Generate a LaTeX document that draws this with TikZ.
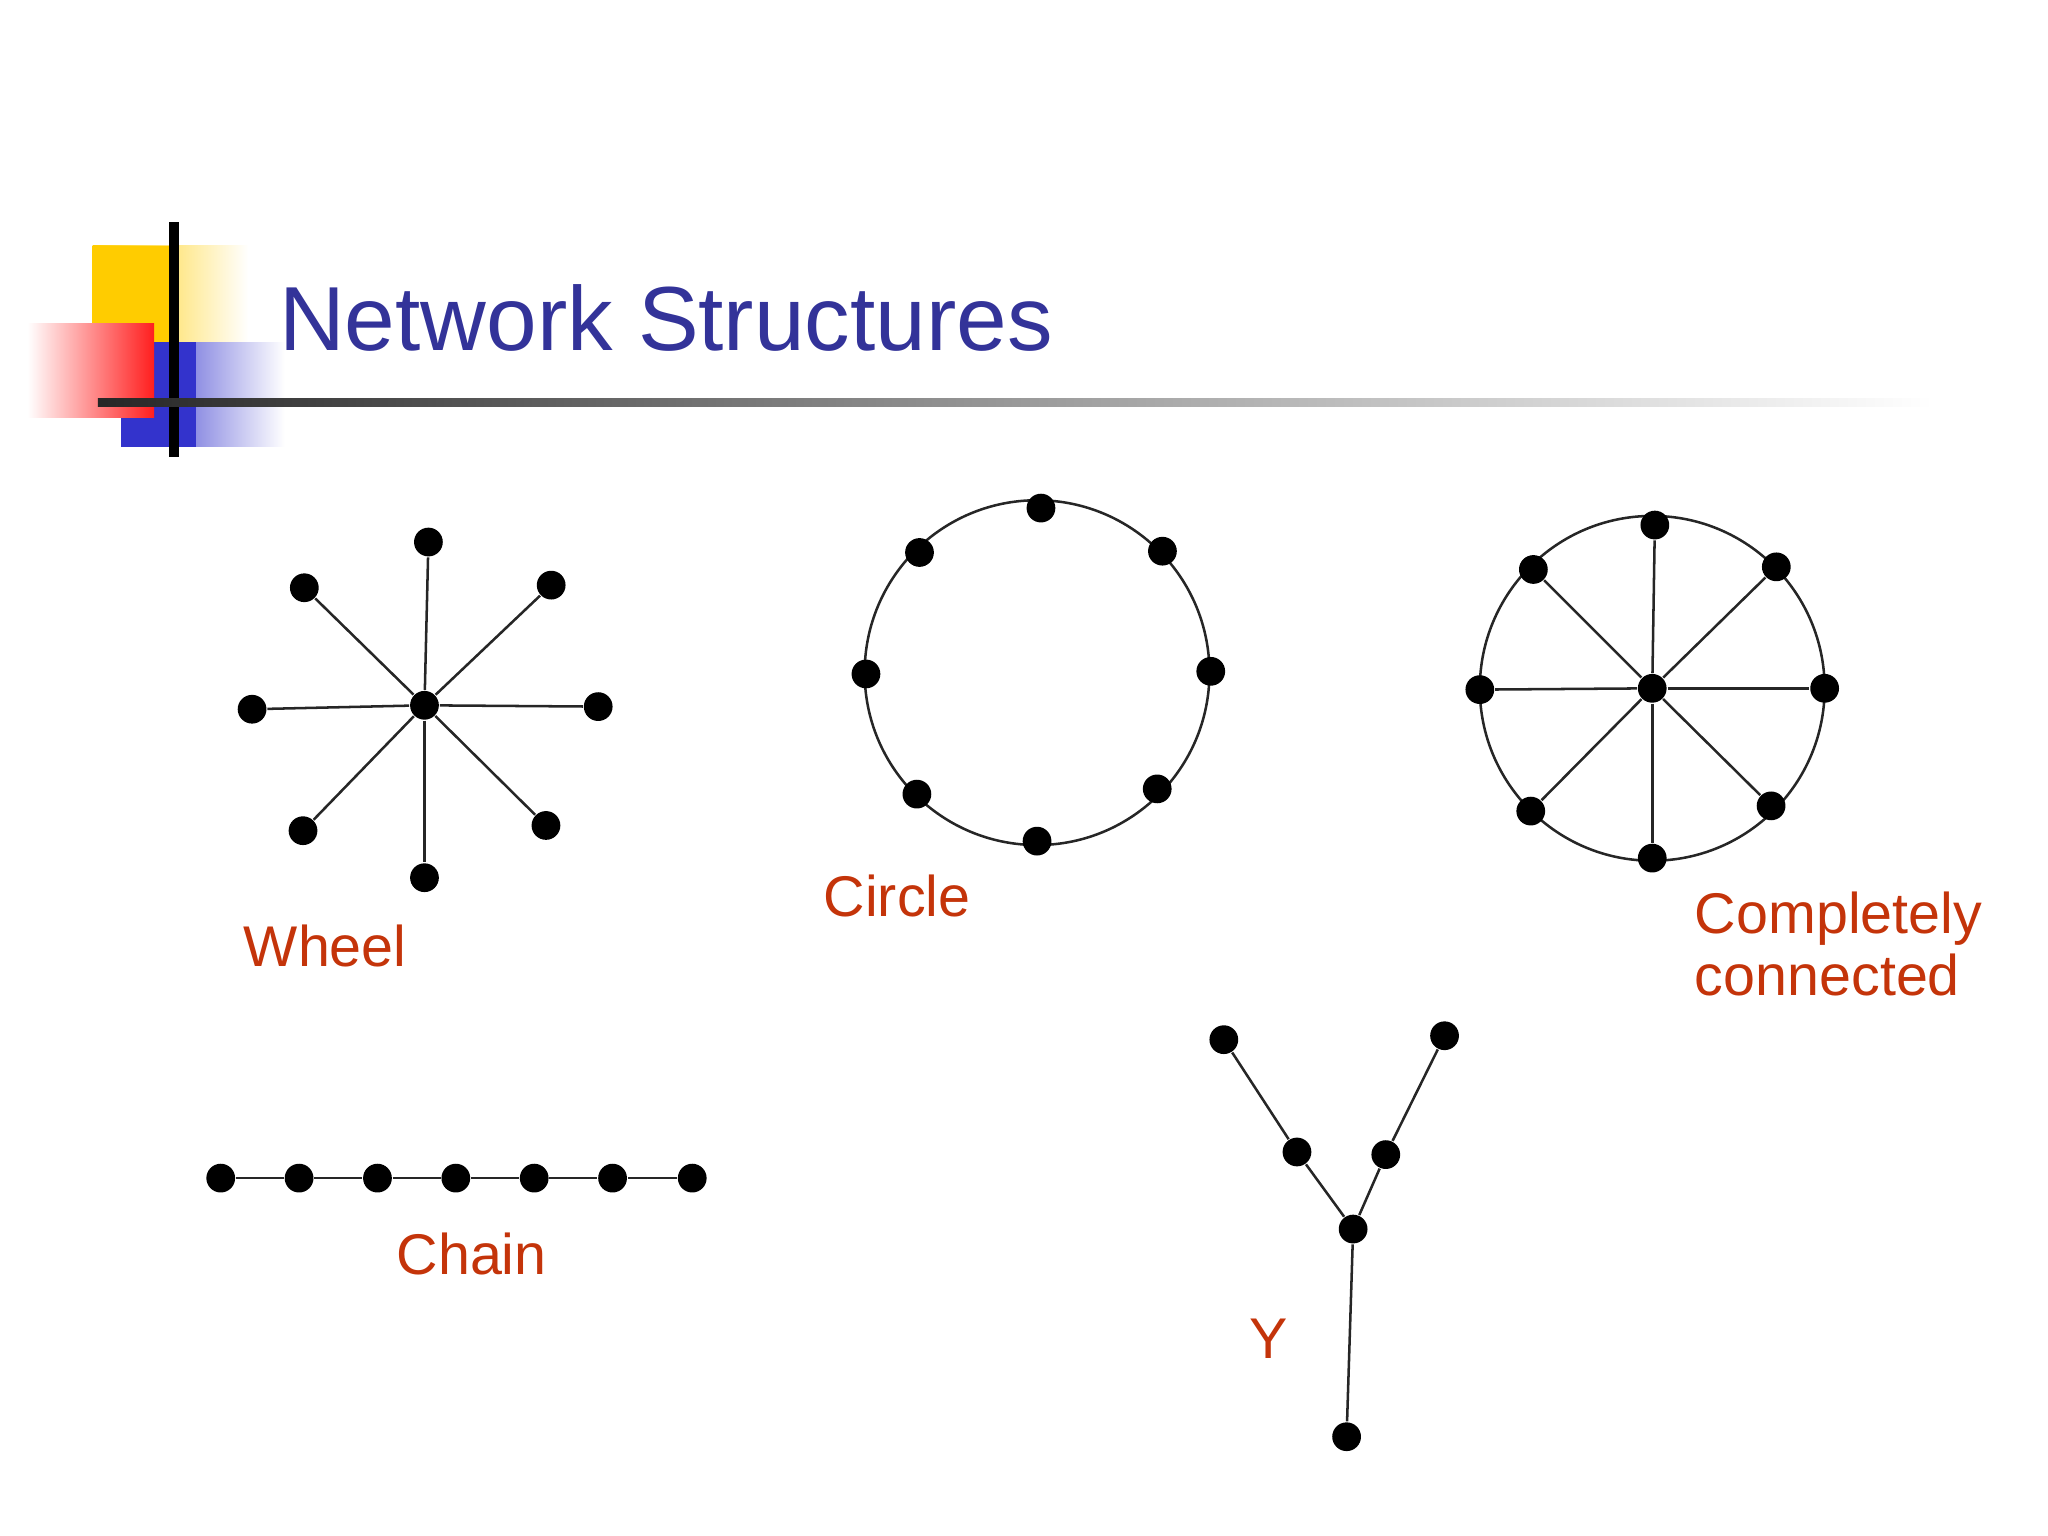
\documentclass[tikz,border=0pt]{standalone}
\usepackage{fontspec}
\setmainfont{Liberation Sans}
\usetikzlibrary{shadings}
\definecolor{ttl}{RGB}{51,51,153}
\definecolor{lbl}{RGB}{196,52,10}
\definecolor{yel}{RGB}{255,204,0}
\definecolor{blu}{RGB}{51,51,204}
\definecolor{rd}{RGB}{255,30,30}
\tikzset{dot/.style={circle,fill=black,minimum size=0.22cm,inner sep=0pt},
 edge/.style={line width=0.55pt,black!85},
 lab/.style={anchor=base west,text=lbl,font=\fontsize{12.5}{14}\selectfont,inner sep=0pt}}
\begin{document}
\begin{tikzpicture}[x=0.01cm,y=-0.01cm]
\useasboundingbox (0,0) rectangle (1568,1176);
% logo
\shade[left color=yel,right color=white] (71,188) rectangle (190,262);
\fill[yel] (71,188) rectangle (130,262);
\shade[left color=blu,right color=white] (93,262) rectangle (218,342);
\fill[blu] (93,262) rectangle (150,342);
\shade[left color=white,right color=rd] (21,248) rectangle (118,320);
\draw[line width=2.2pt] (133,170) -- (133,350);
\shade[left color=black!85,right color=white,middle color=black!40] (75,305) rectangle (1480,311);
\node[anchor=base west,inner sep=0pt,text=ttl] (title) at (213,268) {\resizebox{5.92cm}{!}{\fontsize{22}{26}\selectfont Network Structures}};
% wheel
\node[dot] (wc) at (325,540) {};
\foreach \p [count=\i] in {(328,415),(422,448),(458,541),(418,632),(325,672),(232,636),(193,543),(233,450)}
  {\node[dot] (w\i) at \p {}; \draw[edge] (wc) -- (w\i);}
\node[lab] (wl) at (186,740) {Wheel};
% circle
\draw[edge] (794,515) circle (132);
\foreach \p [count=\i] in {(797,389),(890,422),(927,514),(886,604),(794,644),(702,608),(663,516),(704,423)}
  {\node[dot] (c\i) at \p {};}
\node[lab] (cl) at (630,702) {Circle};
% completely connected
\draw[edge] (1265,527) circle (132);
\node[dot] (kc) at (1265,527) {};
\foreach \p [count=\i] in {(1267,402),(1360,434),(1397,527),(1356,617),(1265,657),(1172,621),(1133,528),(1174,436)}
  {\node[dot] (k\i) at \p {}; \draw[edge] (kc) -- (k\i);}
\node[lab] (kl1) at (1297,715) {Completely};
\node[lab] (kl2) at (1297,762) {connected};
% chain
\foreach \x [count=\i] in {169,229,289,349,409,469,530} {\node[dot] (h\i) at (\x,902) {};}
\draw[edge] (h1) -- (h2) -- (h3) -- (h4) -- (h5) -- (h6) -- (h7);
\node[lab] (hl) at (303,976) {Chain};
% Y
\node[dot] (y1) at (937,796) {};
\node[dot] (y2) at (993,882) {};
\node[dot] (y3) at (1036,941) {};
\node[dot] (y4) at (1061,884) {};
\node[dot] (y5) at (1106,793) {};
\node[dot] (y6) at (1031,1100) {};
\draw[edge] (y1) -- (y2) -- (y3) -- (y4) -- (y5);
\draw[edge] (y3) -- (y6);
\node[lab] (yl) at (956,1040) {Y};
\end{tikzpicture}
\end{document}
